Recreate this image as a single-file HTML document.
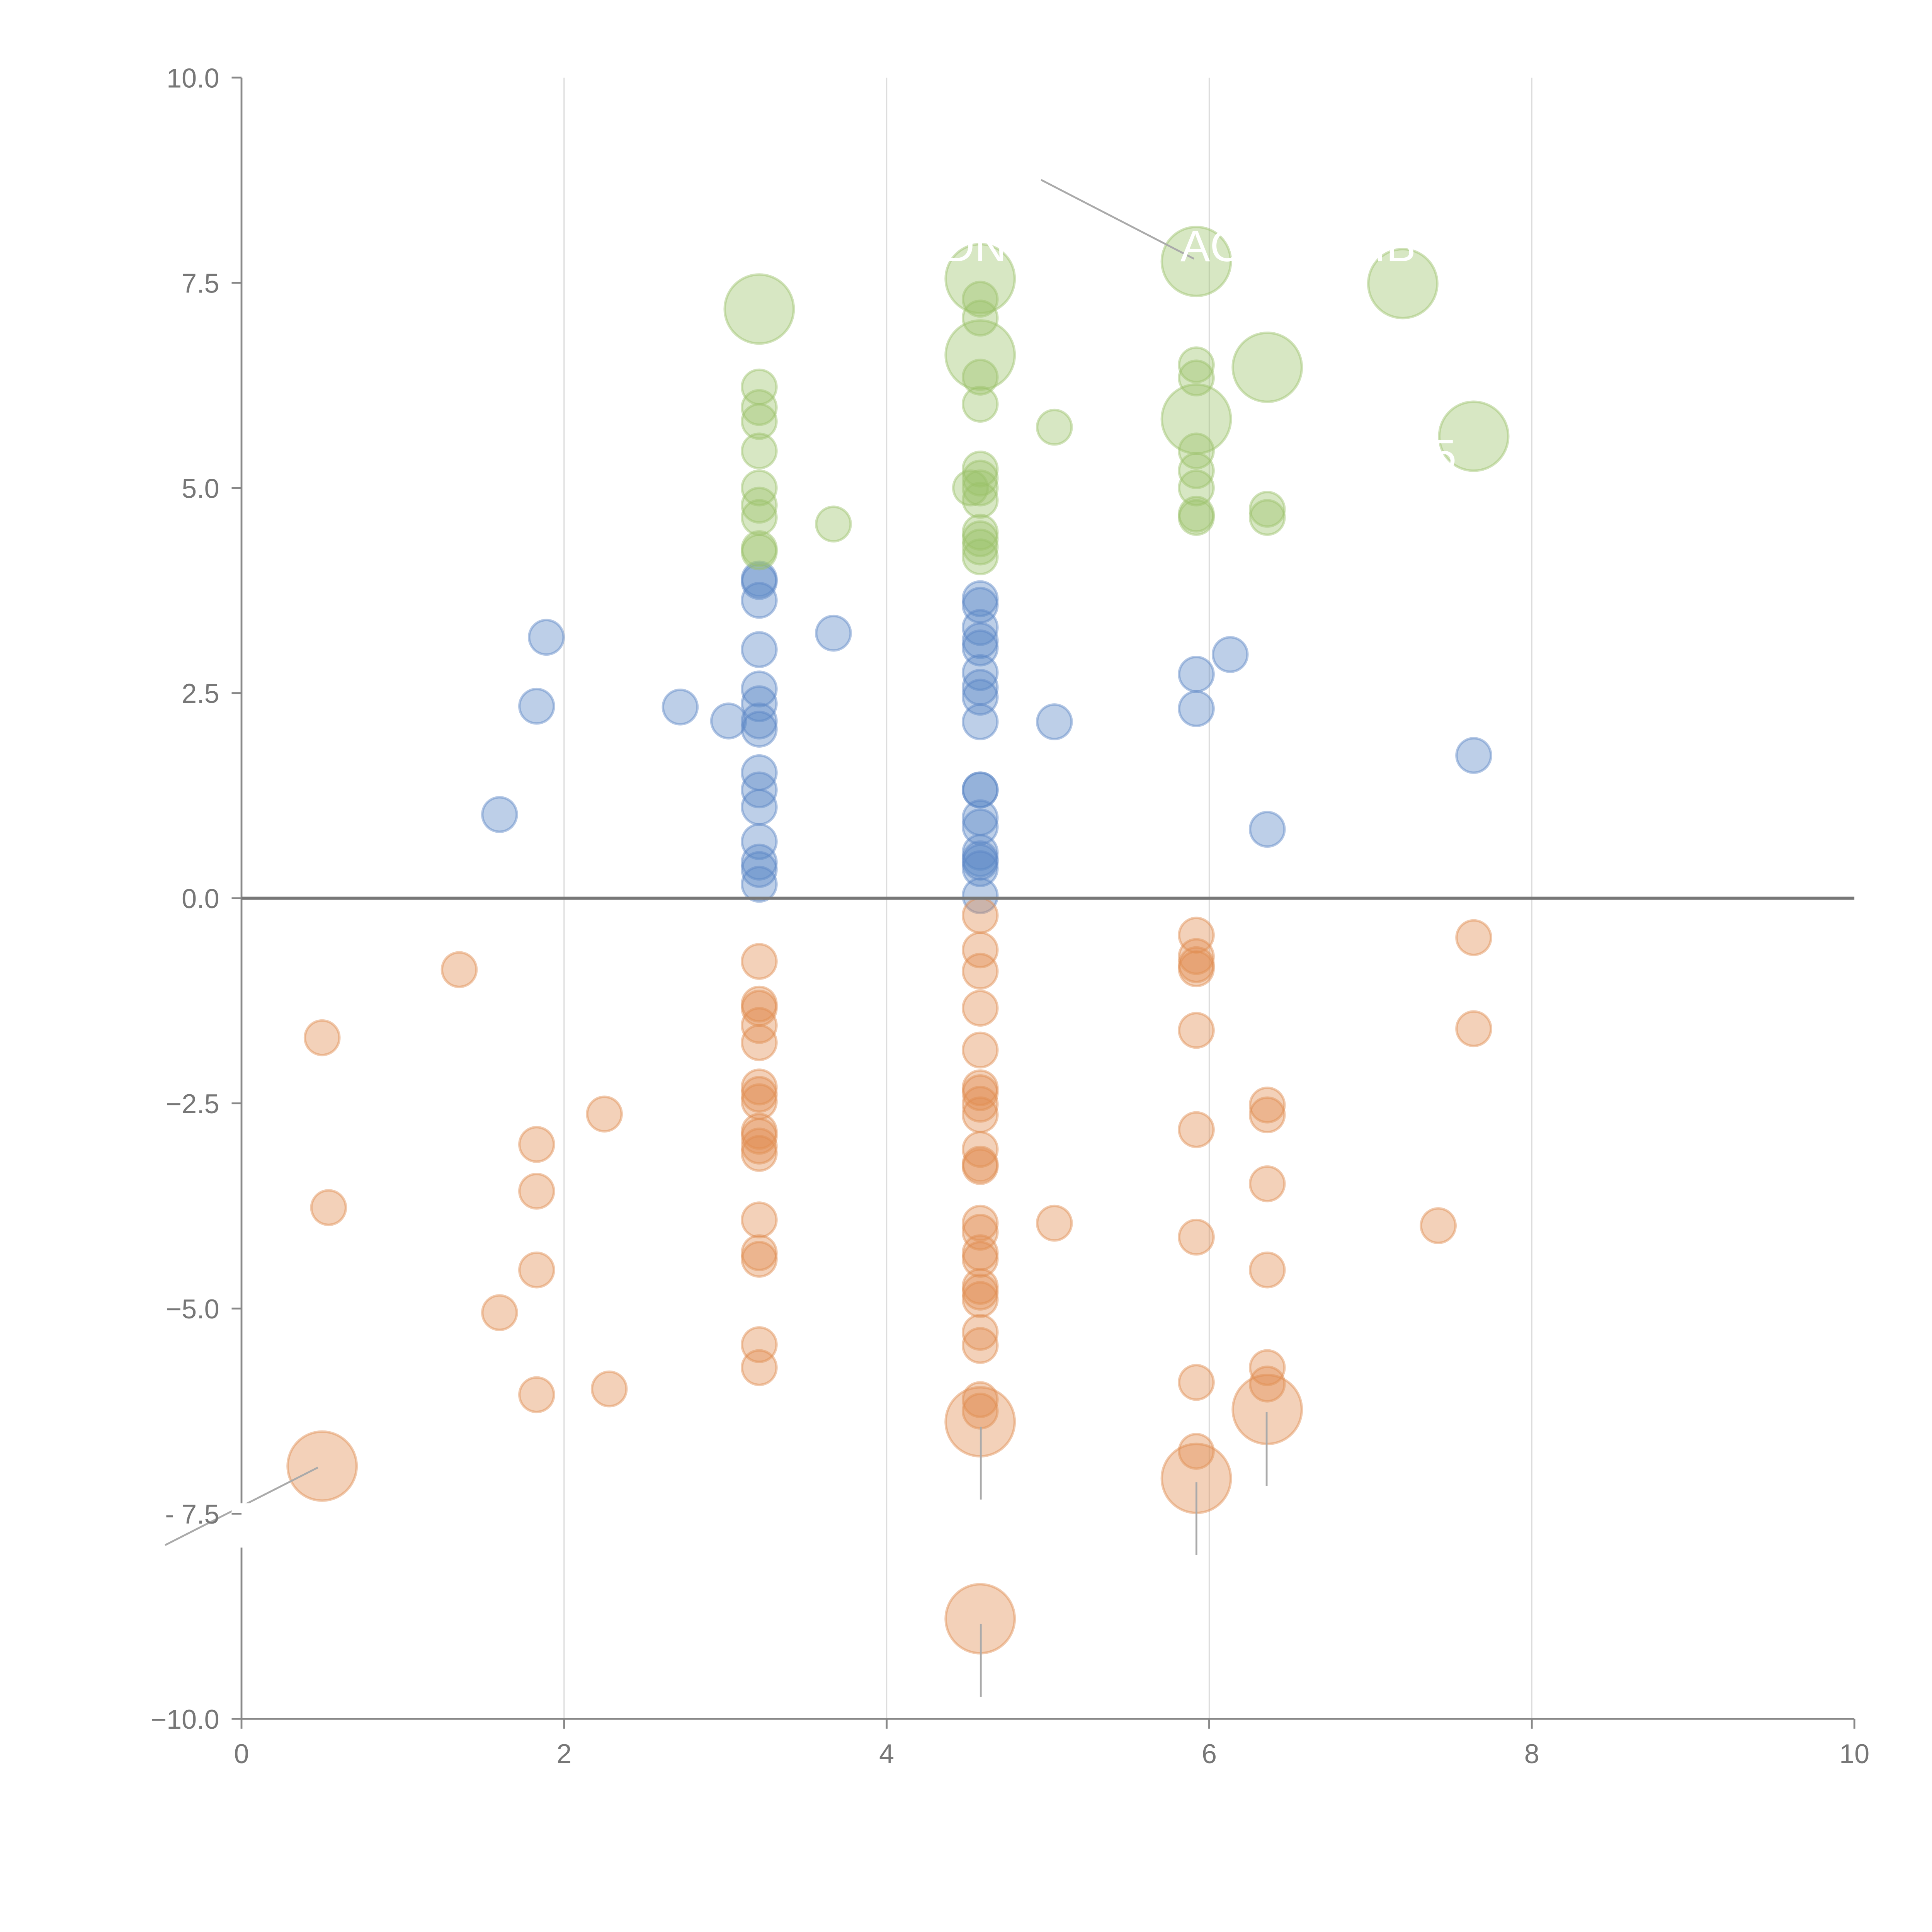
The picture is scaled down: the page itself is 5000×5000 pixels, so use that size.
<!DOCTYPE html>
<html><head><meta charset="utf-8"><style>html,body{margin:0;padding:0;background:#fff}svg{display:block}</style></head>
<body>
<svg id="chart" width="5000" height="5000" viewBox="0 0 1568 1568" xmlns="http://www.w3.org/2000/svg" font-family="Liberation Sans, sans-serif">
<g id="grid"></g>
<g id="marks"></g>
<g id="axes"></g>
</svg>
<script>
const xTicks=[0,2,4,6,8,10];
const yTicks=[10,7.5,5,2.5,0,-2.5,-5,-7.5,-10];
const yTickLabels=["10.0","7.5","5.0","2.5","0.0","\u22122.5","\u22125.0","- 7.5","\u221210.0"];
const blueX=[1.6,1.89,1.83,2.72,3.02,3.21,3.21,3.21,3.21,3.21,3.21,3.21,3.21,3.21,3.21,3.21,3.21,3.21,3.21,3.21,3.67,4.58,4.58,4.58,4.58,4.58,4.58,4.58,4.58,4.58,4.58,4.58,4.58,4.58,4.58,4.58,4.58,4.58,4.58,5.04,5.92,5.92,6.13,6.36,7.64];
const blueY=[1.02,3.18,2.34,2.33,2.16,3.89,3.86,3.63,3.03,2.55,2.37,2.16,2.06,1.53,1.32,1.11,0.69,0.44,0.35,0.17,3.23,3.65,3.57,3.3,3.14,3.05,2.75,2.57,2.45,2.15,1.32,1.32,0.98,0.87,0.56,0.48,0.44,0.36,0.03,2.15,2.73,2.31,2.97,0.84,1.74];
const greenX=[3.21,3.21,3.21,3.21,3.21,3.21,3.21,3.21,3.21,3.21,3.67,4.58,4.58,4.58,4.58,4.58,4.58,4.58,4.58,4.58,4.58,4.58,4.58,4.58,4.58,4.52,5.04,5.92,5.92,5.92,5.92,5.92,5.92,5.92,5.92,5.92,6.36,6.36,6.36,7.2,7.64];
const greenY=[7.18,6.23,5.98,5.81,5.45,5.0,4.79,4.64,4.26,4.22,4.56,7.55,6.62,7.3,7.07,6.35,6.02,5.23,5.12,5.0,4.85,4.46,4.38,4.28,4.16,5.0,5.74,7.76,5.84,6.5,6.34,5.45,5.21,5.0,4.68,4.64,6.47,4.74,4.64,7.49,5.63];
const greenBig=[1,0,0,0,0,0,0,0,0,0,0,1,1,0,0,0,0,0,0,0,0,0,0,0,0,0,0,1,1,0,0,0,0,0,0,0,1,0,0,1,1];
const orangeX=[0.5,0.5,0.54,1.35,1.6,1.83,1.83,1.83,1.83,2.25,2.28,3.21,3.21,3.21,3.21,3.21,3.21,3.21,3.21,3.21,3.21,3.21,3.21,3.21,3.21,3.21,3.21,3.21,4.58,4.58,4.58,4.58,4.58,4.58,4.58,4.58,4.58,4.58,4.58,4.58,4.58,4.58,4.58,4.58,4.58,4.58,4.58,4.58,4.58,4.58,4.58,4.58,4.58,5.04,5.92,5.92,5.92,5.92,5.92,5.92,5.92,5.92,5.92,5.92,6.36,6.36,6.36,6.36,6.36,6.36,6.36,7.42,7.64,7.64];
const orangeY=[-1.7,-6.92,-3.77,-0.87,-5.05,-3.0,-3.57,-4.53,-6.05,-2.63,-5.98,-0.77,-1.29,-1.34,-1.55,-1.76,-2.3,-2.39,-2.48,-2.84,-2.9,-3.02,-3.11,-3.92,-4.32,-4.4,-5.44,-5.72,-0.21,-0.63,-0.89,-1.34,-1.85,-2.31,-2.37,-2.51,-2.64,-3.06,-3.24,-3.27,-3.96,-4.07,-4.32,-4.4,-4.73,-4.8,-4.89,-5.29,-5.45,-6.11,-6.25,-6.38,-8.78,-3.96,-0.45,-0.71,-0.81,-0.86,-1.61,-2.82,-4.13,-5.9,-6.74,-7.07,-2.52,-2.64,-3.48,-4.53,-5.72,-5.92,-6.23,-3.99,-0.48,-1.59];
const orangeBig=[0,1,0,0,0,0,0,0,0,0,0,0,0,0,0,0,0,0,0,0,0,0,0,0,0,0,0,0,0,0,0,0,0,0,0,0,0,0,0,0,0,0,0,0,0,0,0,0,0,0,0,1,1,0,0,0,0,0,0,0,0,0,0,1,0,0,0,0,0,0,1,0,0,0];
const NS="http://www.w3.org/2000/svg";
const X=v=>196+v*130.9, Y=v=>729-v*66.6;
function mk(tag,attrs,parent){const e=document.createElementNS(NS,tag);for(const k in attrs)e.setAttribute(k,attrs[k]);parent.appendChild(e);return e;}
const grid=document.getElementById('grid'),marks=document.getElementById('marks'),axes=document.getElementById('axes');
[2,4,6,8].forEach(v=>{const l=mk('line',{x1:X(v),x2:X(v),y1:Y(10),y2:Y(-10),stroke:'#ddd','stroke-width':1},grid);

});
function series(xs,ys,big,col,name){xs.forEach((x,i)=>{const c=mk('circle',{cx:X(x),cy:Y(ys[i]),r:(big&&big[i])?28:14,fill:col,'fill-opacity':0.4,stroke:col,'stroke-opacity':0.45,'stroke-width':2},marks);

});}
series(blueX,blueY,null,'#5b86c5','blue-point');
series(greenX,greenY,greenBig,'#9cc26a','green-point');
series(orangeX,orangeY,orangeBig,'#e08c4f','orange-point');
[[845,146,969,210],[134,1254,258,1191],[796,1158,796,1217],[971,1203,971,1262],[1028,1146,1028,1206],[796,1318,796,1377]].forEach(s=>{const l=mk('line',{x1:s[0],y1:s[1],x2:s[2],y2:s[3],stroke:'#aaa','stroke-width':1.5},marks);

});
[["AC",958,212],["DN",765,212],["IB",1115,212],["5",1162,382]].forEach(t=>{const e=mk('text',{x:t[1],y:t[2],fill:'#fff','font-size':36},marks);e.textContent=t[0];

});
let a=mk('line',{x1:196,x2:196,y1:Y(10),y2:Y(-10),stroke:'#888','stroke-width':1.5},axes);


a=mk('line',{x1:196,x2:X(10),y1:Y(-10),y2:Y(-10),stroke:'#888','stroke-width':1.5},axes);


a=mk('line',{x1:196,x2:X(10),y1:Y(0),y2:Y(0),stroke:'#777','stroke-width':2.5},axes);


mk('rect',{x:188,y:1220,width:16,height:36,fill:'#fff'},axes);
yTicks.forEach((v,i)=>{const l=mk('line',{x1:188,x2:196,y1:Y(v),y2:Y(v),stroke:'#888','stroke-width':1.5},axes);


const t=mk('text',{x:178,y:Y(v)+8,'text-anchor':'end','font-size':22,fill:'#777'},axes);t.textContent=yTickLabels[i];

});
xTicks.forEach(v=>{const l=mk('line',{x1:X(v),x2:X(v),y1:Y(-10),y2:Y(-10)+8,stroke:'#888','stroke-width':1.5},axes);


const t=mk('text',{x:X(v),y:Y(-10)+36,'text-anchor':'middle','font-size':22,fill:'#777'},axes);t.textContent=String(v);

});
</script>
</body></html>
